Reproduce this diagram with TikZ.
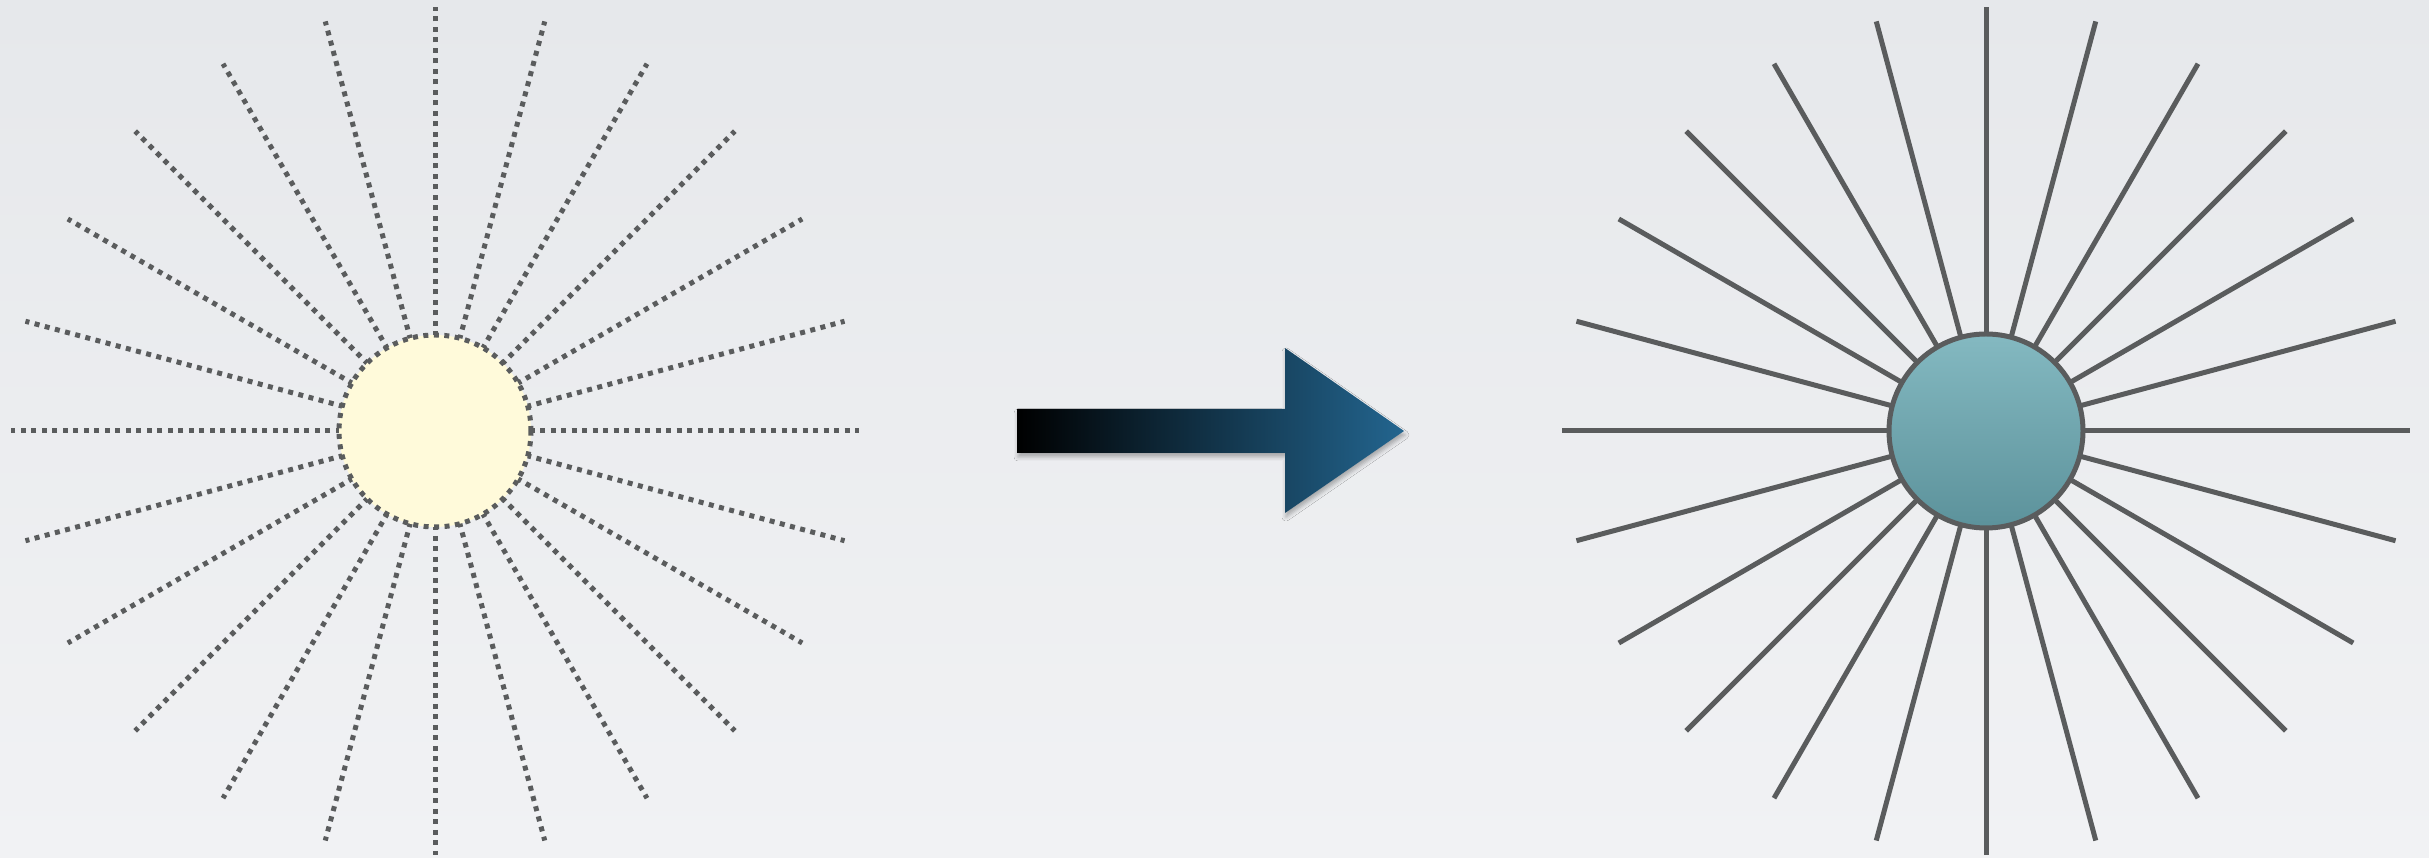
\documentclass[tikz,border=0pt]{standalone}
\usetikzlibrary{calc,shadows.blur}
\definecolor{bgA}{HTML}{E6E8EB}
\definecolor{bgB}{HTML}{F1F2F4}
\definecolor{raygray}{HTML}{5A5C5D}
\definecolor{sunfill}{HTML}{FFFADA}
\definecolor{tealtop}{HTML}{84B9C1}
\definecolor{tealbot}{HTML}{5C929B}
\definecolor{arrowblue}{HTML}{23658F}
\tikzset{
  dotray/.style={draw=raygray, line width=5pt, dash pattern=on 5pt off 5.5pt},
  solidray/.style={draw=raygray, line width=5pt},
  sunA/.style={circle, inner sep=0pt, minimum size=192pt, fill=sunfill, draw=raygray, line width=5pt, dash pattern=on 5pt off 5.5pt},
  sunB/.style={circle, inner sep=0pt, minimum size=194pt, top color=tealtop, bottom color=tealbot, draw=raygray, line width=5pt},
}
\begin{document}
\begin{tikzpicture}[x=1pt,y=1pt]
\useasboundingbox (0,0) rectangle (2429,858);
\shade[top color=bgA, bottom color=bgB] (0,0) rectangle (2429,858);
% left star
\coordinate (lc) at (435,427);
\foreach \a in {0,15,...,345} {
  \coordinate (le\a) at ($(lc)+(\a:424)$);
  \draw[dotray] (lc) -- (le\a);
}
\node[sunA] (lsun) at (lc) {};
% right star
\coordinate (rc) at (1986,427);
\foreach \a in {0,15,...,345} {
  \coordinate (re\a) at ($(rc)+(\a:424)$);
  \draw[solidray] (rc) -- (re\a);
}
\node[sunB] (rsun) at (rc) {};
% arrow
\path[left color=black, right color=arrowblue,
  blur shadow={shadow xshift=1pt, shadow yshift=-4pt, shadow blur radius=4pt, shadow opacity=30}]
  (1017,405) -- (1285,405) -- (1285,345) -- (1404,427) -- (1285,510) -- (1285,449) -- (1017,449) -- cycle;
\end{tikzpicture}
\end{document}
